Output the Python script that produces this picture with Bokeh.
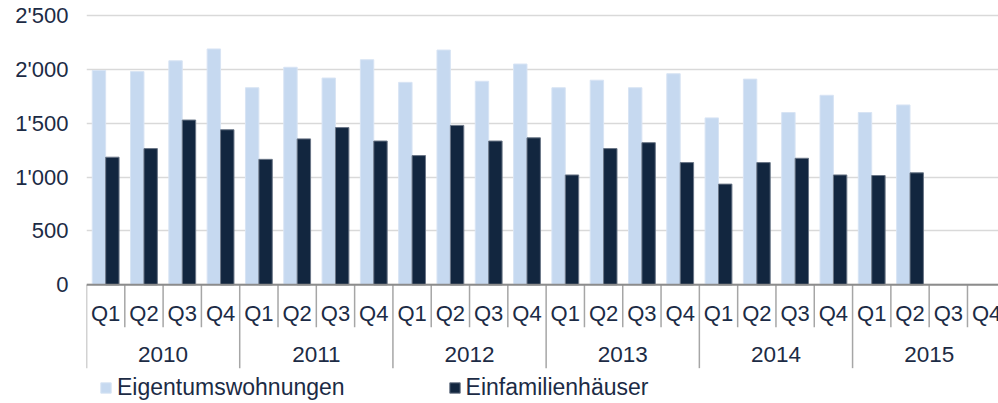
import math
from bokeh.plotting import figure
from bokeh.models import (Range1d, FixedTicker, Span, Legend, LegendItem)
from bokeh.core.properties import value
from bokeh.embed import file_html
from bokeh.resources import INLINE

# ---- data ----
years = ["2010", "2011", "2012", "2013", "2014", "2015"]
quarters = ["Q1", "Q2", "Q3", "Q4"]
eigentumswohnungen = [1990, 1980, 2080, 2190,
                      1830, 2020, 1920, 2090,
                      1880, 2180, 1890, 2050,
                      1830, 1900, 1830, 1960,
                      1550, 1910, 1600, 1760,
                      1600, 1670, float("nan"), float("nan")]
einfamilienhaeuser = [1185, 1265, 1530, 1440,
                      1165, 1355, 1460, 1335,
                      1200, 1480, 1335, 1365,
                      1020, 1265, 1320, 1135,
                      935, 1135, 1175, 1020,
                      1015, 1040, float("nan"), float("nan")]
ytick_values = [0, 500, 1000, 1500, 2000, 2500]
ytick_labels = ["0", "500", "1'000", "1'500", "2'000", "2'500"]
series_names = ["Eigentumswohnungen", "Einfamilienhäuser"]

# ---- style ----
FONT = "Liberation Sans"
TXT = "#1c2b45"
LIGHT = "#C6D9F0"
DARK = "#12263F"

n = len(years) * len(quarters)
cat_x = [i + 0.5 for i in range(n)]
bw = 0.35

def valid(xs, ys):
    xx, yy = [], []
    for a, b in zip(xs, ys):
        if not (isinstance(b, float) and math.isnan(b)):
            xx.append(a); yy.append(b)
    return xx, yy

lx, ly = valid([c - bw / 2 for c in cat_x], eigentumswohnungen)
dx, dy = valid([c + bw / 2 for c in cat_x], einfamilienhaeuser)

p = figure(width=998, height=403, output_backend="svg", toolbar_location=None,
           x_range=Range1d(0, 23.81), y_range=Range1d(-1102, 2640),
           x_axis_location=None, min_border_left=86, min_border_right=0,
           min_border_top=0, min_border_bottom=0)
p.outline_line_color = None
p.background_fill_color = "white"
p.border_fill_color = "white"

# grid
p.xgrid.visible = False
p.ygrid.ticker = FixedTicker(ticks=ytick_values)
p.ygrid.grid_line_color = "#d9d9d9"
p.ygrid.grid_line_width = 1.5

# y axis
ax = p.yaxis[0]
ax.ticker = FixedTicker(ticks=ytick_values)
ax.major_label_overrides = {v: l for v, l in zip(ytick_values, ytick_labels)}
ax.axis_line_color = None
ax.major_tick_line_color = None
ax.minor_tick_line_color = None
ax.major_tick_in = 0
ax.major_tick_out = 0
ax.major_label_standoff = 18
ax.major_label_text_font = FONT
ax.major_label_text_font_size = "22px"
ax.major_label_text_color = TXT

# bars
r1 = p.vbar(x=lx, top=ly, width=bw, bottom=0, fill_color=LIGHT,
            line_color="#d8e4f4", line_width=1)
r2 = p.vbar(x=dx, top=dy, width=bw, bottom=0, fill_color=DARK,
            line_color="#6a7687", line_width=1)

# category axis line
p.add_layout(Span(location=0, dimension="width", line_color="#8c8c8c", line_width=2))

# separators
q_px = 394
y_px = 774
bx = list(range(n))
sy1 = [-y_px if b % len(quarters) == 0 else -q_px for b in bx]
p.segment(x0=bx, x1=bx, y0=[0] * n, y1=sy1, line_color="#a6a6a6", line_width=1.5)

# quarter labels
qlabels = [quarters[i % len(quarters)] for i in range(n)]
p.text(x=cat_x, y=[-266] * n, text=qlabels, text_align="center", text_baseline="middle",
       text_font=value(FONT), text_font_size="22px", text_color=TXT)
# year labels
yx = [len(quarters) * j + len(quarters) / 2 for j in range(len(years))]
p.text(x=yx, y=[-647] * len(years), text=years, text_align="center", text_baseline="middle",
       text_font=value(FONT), text_font_size="22.5px", text_color=TXT)

legend = Legend(items=[LegendItem(label=series_names[0], renderers=[r1]),
                       LegendItem(label=series_names[1], renderers=[r2])],
                location=(13, 2), orientation="horizontal",
                glyph_width=13, glyph_height=13, label_standoff=5, spacing=103,
                padding=0, margin=0, border_line_color=None, background_fill_alpha=0,
                label_text_font=FONT, label_text_font_size="23px", label_text_color=TXT,
                label_height=22)
p.add_layout(legend)

open("out.html", "w").write(file_html(p, INLINE))
